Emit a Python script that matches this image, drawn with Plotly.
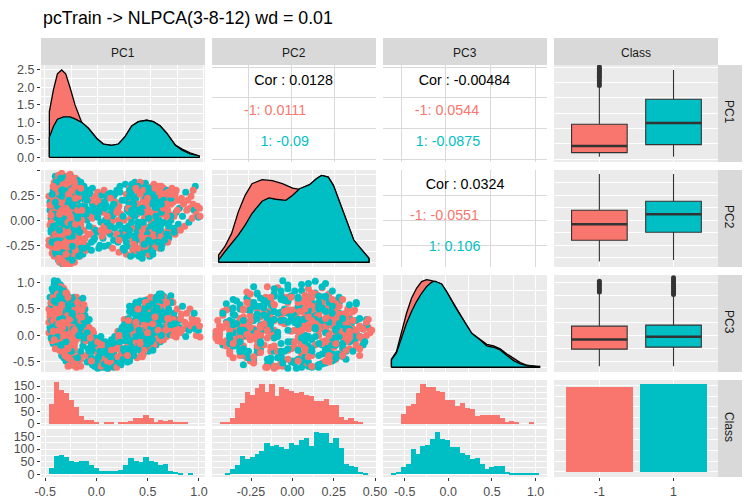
import plotly.graph_objects as go

RED = "#F8766D"
TEAL = "#00BFC4"
FONT = "Liberation Sans"

# ---------- data ----------
pc1_grid_red = [-.456,-.418,-.38,-.34,-.302,-.261,-.214,-.151,-.088,-.009,.053,.132,.195,.258,.321,.384,.462,.525,.588,.651,.73,.792,.871,.956]
pc1_dens_red = [1.31,1.93,2.39,2.5,2.39,2.0,1.5,1.0,.83,.54,.38,.34,.38,.59,.9,1.02,1.06,1.02,.9,.69,.36,.24,.13,.04]
pc1_grid_teal = [-.456,-.418,-.38,-.323,-.261,-.214,-.151,-.088,-.009,.053,.132,.195,.258,.321,.384,.462,.525,.588,.651,.73,.792,.871,.956]
pc1_dens_teal = [.57,.88,1.09,1.16,1.16,1.10,1.0,.83,.54,.38,.34,.38,.59,.9,1.02,1.06,1.02,.9,.69,.35,.21,.1,.04]

pc2_grid_red = [-.425,-.389,-.349,-.31,-.27,-.23,-.171,-.111,-.052,.008,.048,.107,.147,.177,.216,.246,.286,.325,.365,.405,.454]
pc2_dens_red = [.083,.178,.33,.576,.765,.898,.943,.932,.898,.848,.833,.886,.955,.992,.973,.879,.67,.443,.254,.159,.045]
pc2_grid_teal = [-.425,-.389,-.31,-.27,-.23,-.171,-.131,-.091,-.032,.008,.048,.107,.147,.177,.216,.246,.286,.325,.365,.405,.454]
pc2_dens_teal = [.027,.12,.31,.424,.557,.697,.735,.72,.708,.765,.84,.886,.955,.992,.973,.879,.67,.443,.254,.159,.045]

pc3_grid = [-.608,-.552,-.496,-.44,-.384,-.328,-.272,-.216,-.16,-.123,-.049,.007,.101,.194,.287,.381,.455,.53,.604,.679,.754,.828,.903,1.045]
pc3_dens_red = [.091,.179,.388,.616,.787,.901,.977,1.0,.989,.973,.95,.863,.692,.54,.388,.312,.262,.243,.209,.152,.103,.053,.023,.004]
pc3_dens_teal = [.084,.163,.331,.502,.635,.749,.844,.92,.970,.981,.95,.863,.692,.54,.388,.312,.243,.228,.198,.133,.076,.038,.019,.011]

pc1_hist_red = [79,166,134,122,95,67,32,16,16,8,0,4,4,0,4,8,12,24,24,36,24,8,16,12,16,8,4,4]
pc1_hist_teal = [24,71,75,67,51,47,51,51,36,24,12,12,12,12,16,36,63,51,47,67,51,47,36,39,12,8,4,0,4]
pc2_hist_red = [4,8,24,63,83,126,114,142,158,126,158,110,146,138,130,122,126,114,110,91,91,99,75,75,28,16,24,12,8]
pc2_hist_teal = [0,3,22,38,74,62,70,82,93,125,113,117,109,101,125,117,137,145,113,168,164,164,125,145,105,42,34,30,11,3]
pc3_hist_red = [0,0,39,71,79,122,158,146,146,130,126,95,95,71,83,63,59,32,36,36,36,36,24,8,12,8,0,0,4]
pc3_hist_teal = [3,11,30,42,101,82,113,117,141,168,141,137,109,109,86,78,62,66,42,22,30,34,34,11,7,3,3,3,3,3]

class_positions = [0, 1]
class_labels = ["-1", "1"]
class_counts = [981, 1015]

# box statistics per variable, class -1 then class 1
box_pc1 = dict(q1=[-.393,-.263], median=[-.284,.09], q3=[.068,.475], low=[-.458,-.458], high=[.67,.952])
box_pc2 = dict(q1=[-.2,-.12], median=[-.04,.06], q3=[.1,.19], low=[-.413,-.397], high=[.463,.463])
box_pc3 = dict(q1=[-.258,-.22], median=[-.075,-.025], q3=[.176,.195], low=[-.579,-.579], high=[.8,.748])
outliers_pc1_red = [.70,.74,.78,.82,.85,.88,.91,.94,.97,1.0]
outliers_pc3_red = [.82,.86,.90,.94,.98,1.02]
outliers_pc3_teal = [.77,.81,.85,.89,.93,.97,1.01,1.05,1.09]

pc1 = [
 -.46,-.45,-.46,-.44,-.45,-.46,-.44,-.45,-.43,-.44,
 -.42,-.43,-.41,-.42,-.40,-.43,-.41,-.42,-.40,-.41,
 -.41,-.39,-.40,-.38,-.42,-.39,-.37,-.40,-.38,-.39,
 -.37,-.38,-.36,-.37,-.35,-.36,-.38,-.35,-.36,-.34,
 -.34,-.35,-.33,-.34,-.32,-.33,-.35,-.32,-.33,-.31,
 -.31,-.32,-.30,-.31,-.29,-.30,-.32,-.29,-.30,-.28,
 -.28,-.29,-.27,-.28,-.26,-.27,-.29,-.26,-.27,-.25,
 -.25,-.26,-.24,-.25,-.23,-.24,-.26,-.23,-.24,-.22,
 -.22,-.23,-.21,-.22,-.20,-.21,-.23,-.20,-.21,-.19,
 -.19,-.20,-.18,-.19,-.17,-.18,-.16,-.17,-.18,-.16,
 -.15,-.16,-.14,-.15,-.13,-.14,-.16,-.12,-.13,-.15,
 -.12,-.11,-.13,-.10,-.12,-.09,-.11,-.10,-.08,-.09,
 -.31,-.27,-.30,-.26,-.28,-.24,-.33,-.29,-.25,-.27,
 -.36,-.34,-.30,-.28,-.24,-.21,-.37,-.32,-.26,-.22,
 -.07,-.06,-.08,-.05,-.06,-.04,-.05,-.03,-.04,-.02,
 -.01,-.02,.00,.01,.02,.01,.03,.04,.02,.05,
 .05,.06,.07,.08,.06,.09,.10,.08,.11,.12,
 .12,.13,.14,.15,.13,.16,.17,.15,.18,.19,
 .19,.20,.21,.22,.20,.23,.22,.24,.21,.25,
 .26,.27,.25,.28,.27,.29,.28,.30,.29,.31,
 .31,.32,.30,.33,.32,.34,.33,.35,.34,.36,
 .36,.37,.35,.38,.37,.39,.38,.40,.39,.41,
 .41,.42,.40,.43,.42,.44,.43,.45,.44,.46,
 .46,.47,.45,.48,.47,.49,.48,.50,.49,.51,
 .51,.52,.50,.53,.52,.54,.53,.55,.54,.56,
 .56,.57,.55,.58,.57,.59,.58,.60,.59,.61,
 .61,.62,.60,.63,.62,.64,.63,.65,.64,.66,
 .66,.67,.65,.68,.67,.69,.68,.70,.69,.71,
 .71,.72,.73,.74,.73,.75,.76,.74,.77,.78,
 .79,.80,.81,.82,.83,.84,.85,.86,.87,.88,
 .89,.90,.91,.92,.93,.94,.95,.96,.965,.90,
 -.40,-.37,-.33,-.30,-.25,.52,.58,.62,.45,.70,
 .35,.40,.30,.48,.55,.25,.60,.20,.42,.15,
 -.44,-.38,-.28,-.24,-.20,-.16,.05,.10,.30,.44,
 -.35,-.30,-.26,-.22,-.18,-.14,-.40,-.33,-.27,-.23,
 -.32,-.30,-.28,-.26,-.31,-.29,-.27,-.25,-.30,-.28,
 -.45,-.43,-.41,-.39,-.37,-.35,-.33,-.31,-.29,-.27,
 -.25,-.23,-.21,-.19,-.17,-.15,-.44,-.42,-.40,-.38,
 -.36,-.34,-.32,-.30,-.28,-.26,-.24,-.22,-.20,-.18,
 -.43,-.39,-.35,-.31,-.27,-.23,-.19,-.16,-.13,-.11,
 -.30,-.29,-.28,-.27,-.26,-.25,-.24,-.23,-.22,-.21,
 -.42,-.38,-.34,-.32,-.29,-.27,-.25,-.22,-.19,-.17,
 -.08,-.05,-.02,.01,.04,.07,.10,.13,.16,.19,
 .24,.27,.30,.33,.36,.39,.42,.45,.48,.51,
 .54,.57,.60,.63,.66,.69,.72,.28,.34,.40,
 .44,.47,.50,.53,.56,.59,.62,.65,.31,.37,
 .43,.46,.49,.52,.55,.58,.38,.41,.35,.33,
 .42,.50,.58,.66,.36,.44,.52,.60,.68,.28,
 -.39,-.36,-.33,-.30,-.27,-.24,.38,.45,.52,.60,
 -.41,-.38,-.35,-.32,.50,.56,.62,-.36,-.30,-.42,
 .00,.03,.06,.09,.12,.15,.18,.21,-.03,-.06,
 .26,.30,.34,.38,.42,.46,.50,.54,.58,.62,
 .28,.32,.36,.40,.44,.48,.52,.56,.60,.64,
 .27,.33,.39,.45,.51,.57,.63,.69,.75,.71,
 .29,.35,.41,.47,.53,.59,.65,.67,.72,.78,
 .30,.36,.42,.48,.54,.60,.66,.26,.32,.38,
 -.44,-.41,-.38,-.35,-.32,-.29,-.26,-.23,-.20,-.17,
 -.43,-.40,-.37,-.34,-.31,-.28,-.25,-.22,-.19,-.16,
 -.39,-.36,-.33,-.30,-.27,-.24,-.21,-.18,-.15,-.12,
 -.34,-.31,-.28,-.25,-.22,-.19,-.16,-.13,-.10,-.07,
 -.42,-.39,-.36,-.33,-.30,-.27,-.24,-.21,-.18,-.15,
 -.06,-.03,.00,.03,.06,.09,.12,.15,.18,.21,
 .58,.62,.55,-.38,-.34,-.30,-.36,.60,-.28,-.40,
 -.33,-.30,-.27,-.35,.20,.30,-.37,-.24,-.32,-.28,
]
pc2 = [
 -.20,.10,-.25,.22,-.05,.24,-.12,.18,-.27,.02,
 .30,-.33,.38,-.18,.44,.08,-.36,.26,-.25,.14,
 -.05,.20,-.08,.06,-.15,.28,-.40,.34,-.30,.02,
 .45,-.22,.12,-.34,.40,-.42,.16,-.02,.32,-.28,
 .47,.05,-.44,.24,-.12,.37,-.20,.10,-.38,.28,
 -.44,.44,.00,-.30,.18,-.10,.08,.35,-.41,-.16,
 .42,-.36,.30,.02,-.44,-.24,.14,.46,-.06,-.42,
 .22,-.30,.38,-.14,.10,-.38,.44,-.20,.00,.28,
 -.42,.36,-.08,.16,-.34,.42,-.26,.06,-.12,.30,
 .40,-.04,-.30,.20,.34,-.18,.04,-.36,.12,.38,
 -.28,.26,.10,-.10,.34,-.34,-.05,.20,-.22,.30,
 .14,-.30,.28,.00,-.18,.30,.20,-.26,.10,-.14,
 .07,-.43,-.18,.12,-.33,-.28,-.12,.22,.40,-.40,
 .22,-.34,-.26,.38,-.06,-.24,-.12,.34,.26,.16,
 .26,-.22,.05,.16,-.30,-.08,.32,.10,-.20,.24,
 -.12,.05,.28,-.28,.12,.20,-.02,.25,-.25,.08,
 -.18,.30,.00,.15,-.06,.22,-.25,-.12,.06,.27,
 -.14,.12,-.28,.24,.02,-.08,.18,-.20,.30,.00,
 -.22,.14,.28,-.12,-.32,.20,.06,-.28,.34,.00,
 .36,-.34,-.18,.10,.26,-.06,-.26,.32,.18,-.36,
 .02,.28,-.14,-.30,.36,.14,-.20,.38,-.08,-.33,
 .22,.06,-.24,.32,-.12,-.36,.16,-.02,.27,-.18,
 .33,-.28,.10,.20,-.38,-.06,.36,-.18,.02,.28,
 -.32,.12,.37,-.10,.18,-.25,.05,.33,-.36,-.02,
 .24,-.20,-.06,.36,-.30,.12,-.12,.28,-.26,.08,
 -.16,.34,.18,-.28,.02,.26,-.20,.12,-.08,.30,
 -.24,.06,-.12,.22,.32,-.18,-.02,.30,.12,-.10,
 .20,-.18,.10,.28,-.06,.16,-.14,.32,.00,-.12,
 .18,-.08,.26,.08,-.14,.20,-.04,.30,.12,-.10,
 .22,.04,.16,-.06,.28,.10,.20,-.02,.12,.24,
 .02,.16,.10,.34,.06,.14,.03,.12,.04,.30,
 -.22,.10,.18,-.20,.26,.16,-.06,.08,-.16,.05,
 -.34,.38,.30,-.34,.18,-.30,.34,-.05,-.22,.16,
 -.10,.40,.12,.32,-.15,.22,.16,-.10,.24,-.30,
 .34,-.35,.36,.24,-.30,-.24,.20,-.40,-.30,.42,
 -.44,-.40,-.43,-.37,-.33,-.27,-.22,-.16,-.10,-.04,
 .15,-.22,.33,-.28,.26,-.30,.15,-.06,.40,.25,
 -.18,.06,.33,-.24,.12,.04,-.02,.20,-.32,.40,
 -.05,.16,.42,-.06,.24,-.12,.16,.00,.20,-.14,
 -.10,.12,.28,.12,.06,-.36,.26,-.28,-.10,.06,
 -.22,.02,-.38,.20,-.02,-.42,.32,-.10,.38,-.30,
 .22,-.16,-.08,-.24,-.14,.34,.12,-.22,-.08,.24,
 -.06,.02,-.10,.08,-.16,.12,.26,-.02,.26,.10,
 .04,-.12,.22,.06,-.30,.10,-.10,.24,.32,-.12,
 .02,-.22,-.14,.14,-.22,.22,.04,-.16,.16,-.30,
 .14,-.14,-.22,.06,.32,-.02,.26,-.14,.30,.30,
 -.02,.26,.08,-.34,.22,.34,-.06,-.16,.04,.18,
 .30,-.30,.00,.10,-.20,.08,.20,-.28,.26,.12,
 .38,-.38,-.32,.30,.20,-.26,.34,-.26,-.18,.24,
 .06,.14,-.14,.02,.00,.04,.20,-.02,.08,-.06,
 .03,-.10,.18,-.02,.22,.06,-.14,-.05,.16,.20,
 -.08,.08,-.24,-.02,.12,-.18,.26,-.08,.28,-.02,
 .22,-.02,.10,.26,-.24,.02,-.16,.18,-.04,.16,
 -.22,.24,-.30,.08,.30,.06,-.20,.04,.10,.26,
 .12,-.16,.08,.22,-.04,.18,.04,-.04,-.12,.20,
 -.10,.32,-.34,-.20,.32,.08,.28,.20,.10,-.28,
 .05,-.14,.28,.18,-.04,-.20,.04,.14,-.18,-.12,
 .26,-.14,-.24,.10,.32,-.02,-.04,.32,.10,.14,
 -.28,.04,-.24,.36,-.16,.30,-.04,.28,.00,.24,
 .30,-.26,.16,.40,-.36,.02,.32,-.28,.20,-.14,
 .34,-.34,.06,.30,-.34,.38,-.16,.22,-.36,.10,
 .10,-.18,.18,.14,-.26,.04,-.06,.16,.08,-.18,
 -.10,.12,.04,-.24,.24,.12,-.10,.16,-.12,.18,
 .44,.43,.45,.42,-.20,.24,-.38,-.40,-.42,.40,
]
pc3 = [
 .05,.15,.25,.32,.42,.50,.60,.72,-.02,.10,
 -.15,-.10,.02,.18,.30,.40,.12,.55,.65,.80,
 1.03,.98,.90,.85,.72,.70,-.18,-.25,.05,.25,
 .15,.35,.45,.52,-.05,-.08,.62,.95,-.28,-.38,
 .10,.22,.02,.40,-.42,.48,.80,.88,-.20,.62,
 .08,.00,-.48,.32,.72,.58,.25,.20,-.12,.42,
 .12,-.30,.38,-.52,-.05,.55,.78,.05,.70,.18,
 .30,.10,-.22,-.56,.62,-.10,.20,.50,.40,.72,
 .02,-.30,-.58,.42,.22,.12,-.42,.55,.10,.30,
 -.02,.72,-.05,-.52,.18,.35,.66,-.35,.48,.05,
 .28,-.45,.70,.10,-.12,-.20,-.58,.50,.12,.40,
 .38,-.38,.22,-.50,.00,-.25,-.10,.20,.30,.10,
 .18,.28,.05,-.30,-.15,.22,.30,-.40,-.38,.45,
 .78,.68,.82,.60,-.35,-.48,.08,.15,-.10,.00,
 -.05,-.42,.15,-.55,-.15,.05,-.30,-.58,-.25,-.10,
 -.45,-.05,-.35,-.55,-.60,-.22,-.12,-.45,-.30,-.52,
 -.25,-.40,-.12,-.58,-.50,-.20,-.42,-.30,-.15,-.35,
 -.55,-.08,-.20,-.35,-.48,-.02,-.52,-.32,-.15,.08,
 -.48,-.18,.08,-.55,-.05,.15,-.35,-.25,.02,.30,
 -.10,-.42,.20,-.50,.05,.32,.12,-.28,.22,-.05,
 .48,-.38,-.45,.18,.00,.55,-.20,.28,-.30,.38,
 .62,-.42,.05,-.12,.45,-.15,.15,.65,.30,-.32,
 .50,.10,-.28,-.35,.25,.38,.02,.55,-.12,.62,
 -.20,.22,-.10,-.30,.68,.48,.08,.30,.02,.70,
 -.22,.32,-.15,.12,-.02,.58,.68,.42,.20,-.10,
 .42,.00,.72,.18,.25,-.12,-.10,.78,.05,.35,
 .15,-.08,.58,.45,.05,-.02,.72,.25,.62,.28,
 .52,.10,-.02,.02,.68,.38,.30,.18,.75,.00,
 .62,.42,.08,.30,.18,.50,.28,-.03,.15,.05,
 .40,.55,.12,.25,-.02,.42,.20,.10,.50,.18,
 .32,.22,.42,.12,.00,.28,.10,.18,-.03,.28,
 .92,.98,.90,.78,.66,.62,.74,.70,.66,.64,
 .25,.10,-.15,.05,-.18,-.30,-.05,-.45,-.40,-.56,
 -.05,-.02,-.58,-.45,-.60,-.30,-.60,-.62,-.48,-.30,
 .35,.50,.45,.60,.50,.55,.10,.38,.58,-.05,
 -.02,.15,-.10,.22,.10,.25,-.05,.12,.30,.22,
 .35,.28,-.08,.48,.10,.30,.55,-.32,.32,-.22,
 .00,-.48,.28,.38,.58,.25,.62,.46,.22,.18,
 .68,.75,-.10,.44,-.42,.66,.55,-.25,.45,.08,
 .88,.55,.12,-.38,.16,.28,.50,.00,.58,.30,
 .12,-.22,.60,-.12,-.45,.08,.02,.30,-.18,-.10,
 .28,.12,-.30,-.08,.36,.30,.48,-.52,-.42,.30,
 -.30,.10,-.58,-.40,-.18,-.30,-.18,-.28,-.42,-.40,
 -.45,-.22,-.35,-.05,-.08,.48,-.20,-.18,.12,.42,
 .32,.62,.45,.30,.12,.62,.10,.15,-.38,-.05,
 .22,.30,.55,-.18,.15,.48,.60,.42,.12,.08,
 .65,-.05,.50,.05,.25,.05,.28,.45,-.28,-.35,
 -.38,-.12,.35,.20,.40,-.28,-.28,.10,.25,-.25,
 .62,.48,.65,.68,.72,.70,.58,.62,.70,.68,
 .96,1.02,.92,.84,.72,.72,.74,.88,.76,.84,
 -.62,-.58,-.54,-.62,-.50,-.60,-.60,-.52,-.55,-.48,
 .00,-.10,.02,-.25,.32,.18,.12,.06,.55,.42,
 -.38,.25,-.02,-.15,.48,.38,.22,.52,.66,.10,
 .10,.42,.10,.62,.35,.10,.40,.20,.12,.30,
 .28,.52,.00,.05,.45,.28,.62,.50,.22,.32,
 .45,.25,.40,.55,.35,.00,.32,-.25,-.22,.50,
 .45,.65,.40,-.15,.68,.05,.32,.12,.15,.12,
 .12,.10,.28,.58,.12,.48,-.30,.42,.62,.15,
 .35,.30,.15,.28,.58,.40,.45,.22,.48,-.05,
 -.18,.02,.50,-.02,.10,.25,.28,.28,.05,-.05,
 .08,.20,.10,.32,-.15,-.18,.38,.00,.00,.35,
 -.20,-.15,-.12,-.02,-.32,-.48,-.40,-.15,-.25,-.12,
 .78,.72,.70,.78,.84,.80,.74,.74,.72,.92,
 .25,-.12,.30,-.18,.00,.55,.22,.42,.00,-.25,
]
cls = [
 0,1,0,1,0,0,1,1,0,1,
 1,0,0,1,1,0,0,1,0,1,
 1,1,0,1,0,0,1,0,0,1,
 0,1,0,1,0,0,1,1,0,1,
 0,0,1,0,1,0,1,0,0,1,
 0,0,1,0,1,0,0,1,0,0,
 1,0,0,1,0,1,0,0,1,0,
 0,1,0,0,1,0,1,0,0,1,
 0,1,0,0,1,0,0,1,0,1,
 1,0,0,1,1,0,1,0,1,1,
 1,0,1,0,1,1,0,1,0,1,
 1,0,1,1,0,1,0,1,1,0,
 0,0,0,0,0,0,0,0,0,0,
 0,1,0,1,0,0,0,0,1,0,
 1,1,0,1,1,0,1,1,1,0,
 1,1,0,1,1,0,1,1,1,0,
 1,0,1,1,0,1,1,0,1,1,
 1,1,0,1,1,1,0,1,1,0,
 1,0,1,1,0,1,0,1,1,0,
 1,0,1,1,0,1,1,0,1,1,
 0,1,1,0,1,1,0,1,0,1,
 1,0,1,0,1,1,0,1,1,0,
 0,1,1,0,1,0,1,1,0,1,
 1,0,1,1,0,1,1,0,1,1,
 0,1,1,0,1,1,0,1,0,1,
 1,0,1,0,1,1,0,1,1,0,
 1,0,1,1,0,1,0,1,1,0,
 0,1,0,1,1,0,1,0,1,0,
 0,1,0,1,0,0,1,0,1,0,
 0,1,0,0,1,0,0,1,0,0,
 0,0,1,1,0,0,1,0,0,0,
 1,1,0,1,1,1,1,0,1,0,
 1,0,1,0,1,1,0,1,0,1,
 1,1,0,1,0,1,1,0,1,1,
 0,1,0,1,1,0,0,0,1,0,
 0,0,0,0,0,0,0,0,0,0,
 0,1,0,0,1,0,0,0,1,0,
 0,1,0,0,1,1,0,0,1,0,
 1,0,0,1,0,0,1,0,1,0,
 1,0,0,0,0,1,0,1,0,1,
 0,0,1,0,0,0,0,1,0,0,
 0,1,0,0,0,1,0,0,1,0,
 1,0,1,1,0,1,1,0,1,0,
 1,0,1,1,0,1,0,1,1,0,
 1,1,0,1,0,1,0,1,1,0,
 0,1,1,0,1,1,0,1,1,0,
 1,1,0,1,1,0,1,0,1,1,
 0,1,1,0,1,0,1,1,0,1,
 1,0,1,0,1,1,1,0,1,0,
 1,1,0,1,0,1,1,1,0,1,
 1,0,1,1,0,1,0,1,1,0,
 1,1,0,1,1,0,1,1,0,1,
 0,1,1,0,1,1,0,1,1,0,
 1,1,1,0,1,0,1,1,0,0,
 0,1,1,0,1,1,0,1,1,0,
 1,0,1,1,0,1,0,1,1,0,
 0,1,0,0,1,0,0,1,0,1,
 1,0,0,0,1,0,1,0,0,1,
 0,1,0,0,1,0,0,1,0,1,
 1,0,1,0,0,1,0,1,1,0,
 0,1,0,1,0,0,1,0,1,0,
 1,1,0,1,1,0,1,1,0,1,
 1,0,1,0,1,0,1,1,0,1,
 0,1,0,1,0,1,0,1,0,0,
]
assert len(pc1) == len(pc2) == len(pc3) == len(cls)

cor_labels = {
    "pc2_pc1": (["Cor : 0.0128", "-1: 0.0111", "1: -0.09"], [.0135, -.095, -.039], [.769, .281, -.223]),
    "pc3_pc1": (["Cor : -0.00484", "-1: 0.0544", "1: -0.0875"], [.206, .011, .022], [.769, .281, -.223]),
    "pc3_pc2": (["Cor : 0.0324", "-1: -0.0551", "1: 0.106"], [.212, -.017, .095], [.353, .043, -.267]),
}

# ---------- layout geometry (pixels) ----------
W, H = 750, 504
COLS = [(41, 205), (212, 376), (383, 547), (554, 718)]
ROWS = [(65, 162), (170, 267), (275, 372), (380, 477)]
HIST_ROWS = [(380, 426), (429, 477)]
STRIP_TOP = (38, 65)
STRIP_RIGHT = (718, 742)

fig = go.Figure()
layout = {}
shapes = []
annotations = []
counter = [0]

GRID_W = 1.4
MINOR_W = 0.9


def axis_cfg(rng, majors, minors, labels, domain, anchor, grid="white", side=None):
    cfg = dict(
        domain=domain, range=rng, anchor=anchor, showline=False, zeroline=False,
        tickmode="array", tickvals=majors, showgrid=True, gridcolor=grid, gridwidth=GRID_W,
        ticks="outside" if labels else "", ticklen=3, tickwidth=1, tickcolor="#333333",
        showticklabels=bool(labels), fixedrange=True, automargin=False,
        tickfont=dict(family=FONT, size=12.5, color="#4D4D4D"),
    )
    if labels:
        cfg["ticktext"] = labels
    if minors:
        cfg["minor"] = dict(tickmode="array", tickvals=minors, showgrid=True, gridcolor=grid,
                            gridwidth=MINOR_W, ticks="")
    return cfg


def panel(xpx, ypx, xspec, yspec, xlabels=None, ylabels=None, bg="#EBEBEB", grid="white"):
    counter[0] += 1
    n = counter[0]
    xn = "x" if n == 1 else f"x{n}"
    yn = "y" if n == 1 else f"y{n}"
    layout["xaxis" if n == 1 else f"xaxis{n}"] = axis_cfg(
        xspec[0], xspec[1], xspec[2] if bg != "white" else None, xlabels,
        [xpx[0] / W, xpx[1] / W], yn, grid)
    layout["yaxis" if n == 1 else f"yaxis{n}"] = axis_cfg(
        yspec[0], yspec[1], yspec[2] if bg != "white" else None, ylabels,
        [1 - ypx[1] / H, 1 - ypx[0] / H], xn, grid)
    if bg != "white":
        shapes.append(dict(type="rect", xref="paper", yref="paper", layer="below",
                           x0=xpx[0] / W, x1=xpx[1] / W, y0=1 - ypx[1] / H, y1=1 - ypx[0] / H,
                           fillcolor=bg, line_width=0))
    return xn, yn


# axis specs: range, major ticks, minor ticks
X1 = ([-.535, 1.012], [-.5, 0, .5, 1], [-.25, .25, .75])
X1H = ([-.541, 1.059], [-.5, 0, .5, 1], [-.25, .25, .75])
X2 = ([-.4637, .4953], [-.25, 0, .25], [-.375, -.125, .125, .375])
X2H = ([-.486, .506], [-.25, 0, .25, .5], [-.375, -.125, .125, .375])
X3 = ([-.702, 1.126], [-.5, 0, .5, 1], [-.25, .25, .75])
X3H = ([-.748, 1.131], [-.5, 0, .5, 1], [-.25, .25, .75])
X4 = ([-.612, 1.6], class_positions, None)

YD1 = ([-.135, 2.643], [0, .5, 1, 1.5, 2, 2.5], [.25, .75, 1.25, 1.75, 2.25])
YD2 = ([-.054, 1.054], [0, .25, .5, .75, 1], [.125, .375, .625, .875])
YD3 = ([-.054, 1.052], [0, .35, .7, 1.05], [.175, .525, .875])
Y1 = ([-.545, 1.033], [-.5, 0, .5, 1], [-.25, .25, .75])
Y2 = ([-.467, .503], [-.25, 0, .25, .5], [-.375, -.125, .125, .375])
Y3 = ([-.689, 1.14], [-.5, 0, .5, 1], [-.25, .25, .75])
YH_TOP = ([-8, 173.7], [0, 50, 100, 150], [25, 75, 125])
YH_BOT = ([-10.6, 179], [0, 50, 100, 150], [25, 75, 125])
YBAR = ([-58, 1061], [0, 250, 500, 750, 1000], [125, 375, 625, 875])

POINT_COLORS = [RED if c == 0 else TEAL for c in cls]


def density(ref, xs, ys, color):
    fig.add_trace(go.Scatter(
        x=[xs[0]] + xs + [xs[-1], xs[0]], y=[0] + ys + [0, 0], mode="lines", fill="toself",
        fillcolor=color, line=dict(color="black", width=1.3), xaxis=ref[0], yaxis=ref[1],
        hoverinfo="skip", showlegend=False))


def points(ref, xs, ys):
    fig.add_trace(go.Scatter(
        x=xs, y=ys, mode="markers", marker=dict(size=7, color=POINT_COLORS, line_width=0),
        xaxis=ref[0], yaxis=ref[1], hoverinfo="skip", showlegend=False))


def cor_text(ref, key):
    texts, xs, ys = cor_labels[key]
    fig.add_trace(go.Scatter(
        x=xs, y=ys, text=texts, mode="text", textposition="middle center",
        textfont=dict(family=FONT, size=14.3, color=["black", RED, TEAL]),
        xaxis=ref[0], yaxis=ref[1], hoverinfo="skip", showlegend=False))


def boxes(ref, stats, outliers):
    for i, color in enumerate([RED, TEAL]):
        pos = class_positions[i]
        fig.add_trace(go.Box(
            x=[pos], q1=[stats["q1"][i]], median=[stats["median"][i]], q3=[stats["q3"][i]],
            lowerfence=[stats["low"][i]], upperfence=[stats["high"][i]], width=.75,
            fillcolor=color, line=dict(color="#333333", width=1.1), whiskerwidth=0,
            boxpoints=False, xaxis=ref[0], yaxis=ref[1], hoverinfo="skip", showlegend=False))
        fig.add_trace(go.Scatter(
            x=[pos - .375, pos + .375], y=[stats["median"][i]] * 2, mode="lines",
            line=dict(color="#333333", width=2.4), xaxis=ref[0], yaxis=ref[1],
            hoverinfo="skip", showlegend=False))
        if outliers[i]:
            fig.add_trace(go.Scatter(
                x=[pos] * len(outliers[i]), y=outliers[i], mode="markers",
                marker=dict(size=5, color="#333333", line_width=0),
                xaxis=ref[0], yaxis=ref[1], hoverinfo="skip", showlegend=False))


def hist(ref, counts, x0, dx, color):
    fig.add_trace(go.Bar(
        x0=x0, dx=dx, y=counts, width=dx * 1.06, marker=dict(color=color, line_width=0),
        xaxis=ref[0], yaxis=ref[1], hoverinfo="skip", showlegend=False))


# Row 1
L_D1 = ["0.0", "0.5", "1.0", "1.5", "2.0", "2.5"]
r = panel(COLS[0], ROWS[0], X1, YD1, ylabels=L_D1)
density(r, pc1_grid_red, pc1_dens_red, RED)
density(r, pc1_grid_teal, pc1_dens_teal, TEAL)
r = panel(COLS[1], ROWS[0], X2, Y1, bg="white", grid="#D9D9D9")
cor_text(r, "pc2_pc1")
r = panel(COLS[2], ROWS[0], X3, Y1, bg="white", grid="#D9D9D9")
cor_text(r, "pc3_pc1")
r = panel(COLS[3], ROWS[0], X4, Y1)
boxes(r, box_pc1, [outliers_pc1_red, []])

# Row 2
r = panel(COLS[0], ROWS[1], X1, Y2, ylabels=["-0.25", "0.00", "0.25", ""])
points(r, pc1, pc2)
r = panel(COLS[1], ROWS[1], X2, YD2)
density(r, pc2_grid_red, pc2_dens_red, RED)
density(r, pc2_grid_teal, pc2_dens_teal, TEAL)
r = panel(COLS[2], ROWS[1], X3, Y2, bg="white", grid="#D9D9D9")
cor_text(r, "pc3_pc2")
r = panel(COLS[3], ROWS[1], X4, Y2)
boxes(r, box_pc2, [[], []])

# Row 3
r = panel(COLS[0], ROWS[2], X1, Y3, ylabels=["-0.5", "0.0", "0.5", "1.0"])
points(r, pc1, pc3)
r = panel(COLS[1], ROWS[2], X2, Y3)
points(r, pc2, pc3)
r = panel(COLS[2], ROWS[2], X3, YD3)
density(r, pc3_grid, pc3_dens_red, RED)
density(r, pc3_grid, pc3_dens_teal, TEAL)
r = panel(COLS[3], ROWS[2], X4, Y3)
boxes(r, box_pc3, [outliers_pc3_red, outliers_pc3_teal])

# Row 4: histograms split by class, bars
L_H = ["0", "50", "100", "150"]
r = panel(COLS[0], HIST_ROWS[0], X1H, YH_TOP, ylabels=L_H)
hist(r, pc1_hist_red, -.439, .0485, RED)
r = panel(COLS[0], HIST_ROWS[1], X1H, YH_BOT, xlabels=["-0.5", "0.0", "0.5", "1.0"], ylabels=L_H)
hist(r, pc1_hist_teal, -.439, .0485, TEAL)
r = panel(COLS[1], HIST_ROWS[0], X2H, YH_TOP)
hist(r, pc2_hist_red, -.422, .02985, RED)
r = panel(COLS[1], HIST_ROWS[1], X2H, YH_BOT, xlabels=["-0.25", "0.00", "0.25", "0.50"])
hist(r, pc2_hist_teal, -.422, .02985, TEAL)
r = panel(COLS[2], HIST_ROWS[0], X3H, YH_TOP)
hist(r, pc3_hist_red, -.628, .0565, RED)
r = panel(COLS[2], HIST_ROWS[1], X3H, YH_BOT, xlabels=["-0.5", "0.0", "0.5", "1.0"])
hist(r, pc3_hist_teal, -.628, .0565, TEAL)
r = panel(COLS[3], ROWS[3], X4, YBAR, xlabels=class_labels)
for i, color in enumerate([RED, TEAL]):
    fig.add_trace(go.Bar(x=[class_positions[i]], y=[class_counts[i]], width=.9,
                         marker=dict(color=color, line_width=0), xaxis=r[0], yaxis=r[1],
                         hoverinfo="skip", showlegend=False))

# Strips
for (x0, x1), name in zip(COLS, ["PC1", "PC2", "PC3", "Class"]):
    shapes.append(dict(type="rect", xref="paper", yref="paper", layer="below", x0=x0 / W, x1=x1 / W,
                       y0=1 - STRIP_TOP[1] / H, y1=1 - STRIP_TOP[0] / H, fillcolor="#D9D9D9", line_width=0))
    annotations.append(dict(text=name, xref="paper", yref="paper", x=(x0 + x1) / 2 / W,
                            y=1 - 53 / H, showarrow=False, xanchor="center", yanchor="middle",
                            font=dict(family=FONT, size=12, color="#1A1A1A")))
for (y0, y1), name in zip(ROWS, ["PC1", "PC2", "PC3", "Class"]):
    shapes.append(dict(type="rect", xref="paper", yref="paper", layer="below",
                       x0=STRIP_RIGHT[0] / W, x1=STRIP_RIGHT[1] / W, y0=1 - y1 / H, y1=1 - y0 / H,
                       fillcolor="#D9D9D9", line_width=0))
    annotations.append(dict(text=name, xref="paper", yref="paper", x=729 / W, y=1 - (y0 + y1 - 3) / 2 / H,
                            showarrow=False, textangle=90, xanchor="center", yanchor="middle",
                            font=dict(family=FONT, size=12, color="#1A1A1A")))

annotations.append(dict(text="pcTrain -> NLPCA(3-8-12) wd = 0.01", xref="paper", yref="paper",
                        x=41 / W, y=1 - 18 / H, showarrow=False, xanchor="left", yanchor="middle",
                        font=dict(family=FONT, size=17.8, color="black")))

fig.update_layout(
    width=W, height=H, autosize=False,
    margin=dict(l=0, r=0, t=0, b=0, pad=0, autoexpand=False),
    paper_bgcolor="white", plot_bgcolor="rgba(0,0,0,0)", showlegend=False,
    barmode="overlay", boxmode="overlay", bargap=0,
    shapes=shapes, annotations=annotations, font=dict(family=FONT), **layout,
)
fig.write_html("out.html", config=dict(displayModeBar=False),
               post_script="document.body.style.margin='0';document.body.style.overflow='hidden';")
